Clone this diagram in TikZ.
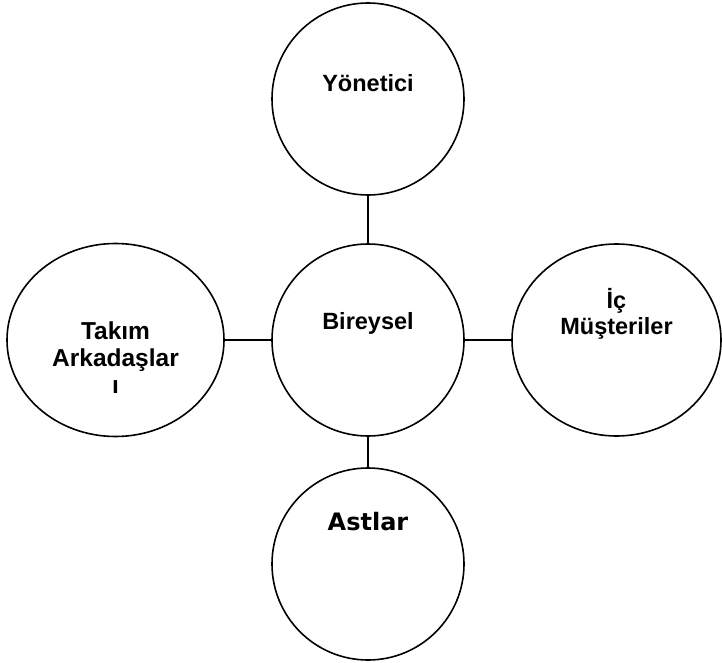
\documentclass[tikz,border=0pt]{standalone}
\usepackage{fontspec}
\setmainfont{Liberation Sans}
\newfontfamily\verdfont{DejaVu Sans}
\usetikzlibrary{shapes}
\usetikzlibrary{positioning}
\tikzset{
    mynode/.style = {circle, line width=1.6pt, draw=black, minimum size=192pt, inner sep=0pt},
    mynodee/.style = {ellipse, line width=1.6pt, draw=black, inner sep=0pt},
    txt/.style = {align=center, inner sep=0pt, font=\fontsize{23.5}{26}\selectfont\bfseries},
    txtl/.style = {align=center, inner sep=0pt, font=\fontsize{24.5}{27}\selectfont\bfseries},
    txtv/.style = {align=center, inner sep=0pt, font=\verdfont\fontsize{24}{28}\selectfont\bfseries},
    edgen/.style = {-, line width=1.6pt},
}

\begin{document}
\begin{tikzpicture}[x=1pt,y=-1pt]
\useasboundingbox (0,0) rectangle (722,663);
%
\node[mynode, label={[txt,yshift=16pt]center:Yönetici}] at (368,99) (y) {};
\node[mynode, label={[txt,yshift=17pt]center:Bireysel}] at (368,340) (b) {};
\node[mynode, label={[txtv,yshift=42pt]center:Astlar}] at (368,564) (a) {};
\node[mynodee, minimum width=217pt, minimum height=193pt,
      label={[txtl,yshift=-18pt]center:Takım\\Arkadaşlar\\ı}] at (115.5,340) (t) {};
\node[mynodee, minimum width=209pt, minimum height=192pt,
      label={[txt,yshift=26pt]center:İç\\Müşteriler}] at (616.5,340) (m) {};
%
\draw[edgen] (y) -- (b);
\draw[edgen] (b) -- (a);
\draw[edgen] (t) -- (b);
\draw[edgen] (b) -- (m);
\end{tikzpicture}
\end{document}
